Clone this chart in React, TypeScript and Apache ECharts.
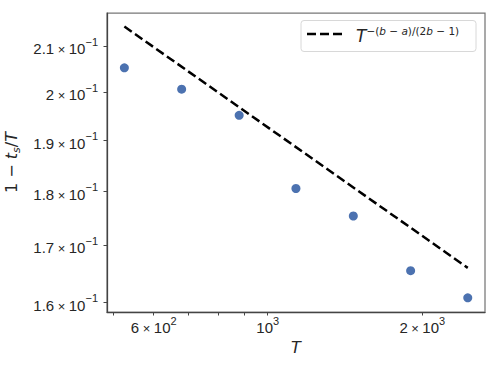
import React, { useEffect, useRef } from "react";
import * as echarts from "echarts";

// Data (log-log axes)
const T_VALUES = [526, 680, 880, 1135, 1468, 1898, 2452];
const Y_VALUES = [0.2053, 0.2007, 0.1952, 0.1806, 0.1754, 0.1655, 0.1608];
const FIT_T = [526, 2452];
const FIT_Y = [0.2145, 0.166];

const X_LABEL_TICKS = [600, 1000, 2000];
const X_MINOR_TICKS = [500, 700, 800, 900];
const Y_LABEL_TICKS = [0.16, 0.17, 0.18, 0.19, 0.2, 0.21];
const X_RANGE = [486.6, 2649];
const Y_RANGE = [0.1584, 0.2176];

const lg = (v: number) => Math.log10(v);

function sciRich(v: number): string {
  const raw = Math.pow(10, v);
  const exp = Math.floor(Math.log10(raw) + 1e-9);
  const mant = Math.round((raw / Math.pow(10, exp)) * 100) / 100;
  const e = exp < 0 ? "\u2212" + Math.abs(exp) : String(exp);
  if (mant === 1) return `{n|10}{e|${e}}`;
  return `{n|${mant}}{x|\u00d7}{n|10}{e|${e}}`;
}

export default function App() {
  const ref = useRef<HTMLDivElement>(null);
  useEffect(() => {
    if (!ref.current) return;
    const chart = echarts.init(ref.current, null, { renderer: "svg" });
    const tickFont = "Liberation Sans";
    const mathFont = "DejaVu Sans";
    const richTick = {
      n: { fontFamily: tickFont, fontSize: 15, color: "#262626", lineHeight: 20, verticalAlign: "bottom" },
      x: { fontFamily: tickFont, fontSize: 13, color: "#262626", lineHeight: 20, verticalAlign: "bottom", padding: [0, 3.5, 0, 3.5] },
      e: { fontFamily: tickFont, fontSize: 11, color: "#262626", lineHeight: 9, verticalAlign: "top" },
    };
    const labelBase = { fontFamily: tickFont, fontSize: 15, color: "#262626" };
    chart.setOption({
      animation: false,
      textStyle: { fontFamily: tickFont },
      grid: {
        left: 107,
        top: 13,
        width: 378,
        height: 299,
        containLabel: false,
        outerBoundsMode: "none",
        show: true,
        borderColor: "#777",
        borderWidth: 1.25,
        backgroundColor: "#fff",
      },
      xAxis: {
        type: "value",
        min: lg(X_RANGE[0]),
        max: lg(X_RANGE[1]),
        name: "T",
        nameLocation: "middle",
        nameGap: 26,
        nameTextStyle: { fontFamily: mathFont, fontStyle: "italic", fontSize: 16, color: "#262626" },
        axisLine: { show: true, onZero: false, lineStyle: { color: "#444", width: 1.25 } },
        axisTick: {
          show: true,
          length: 3.5,
          lineStyle: { color: "#444", width: 1 },
          customValues: [...X_MINOR_TICKS, ...X_LABEL_TICKS].map(lg),
        },
        axisLabel: {
          ...labelBase,
          customValues: X_LABEL_TICKS.map(lg),
          margin: 3,
          formatter: (v: number) => sciRich(v),
          rich: richTick,
        },
        splitLine: { show: false },
      },
      yAxis: {
        type: "value",
        min: lg(Y_RANGE[0]),
        max: lg(Y_RANGE[1]),
        name: "{a|1 \u2212 }{i|t}{s|s}{a|/}{i|T}",
        nameLocation: "middle",
        nameRotate: 90,
        nameGap: 76,
        nameTextStyle: {
          fontFamily: mathFont,
          fontSize: 16,
          rich: {
            a: { fontFamily: mathFont, fontSize: 16, color: "#262626", lineHeight: 22 },
            i: { fontFamily: mathFont, fontSize: 16, fontStyle: "italic", color: "#262626", lineHeight: 22 },
            s: { fontFamily: mathFont, fontSize: 11, fontStyle: "italic", color: "#262626", lineHeight: 22, verticalAlign: "bottom" },
          },
        },
        axisLine: { show: true, onZero: false, lineStyle: { color: "#444", width: 1.25 } },
        axisTick: {
          show: true,
          length: 3.5,
          lineStyle: { color: "#444", width: 1 },
          customValues: Y_LABEL_TICKS.map(lg),
        },
        axisLabel: {
          ...labelBase,
          customValues: Y_LABEL_TICKS.map(lg),
          margin: 9,
          formatter: (v: number) => sciRich(v),
          rich: richTick,
        },
        splitLine: { show: false },
      },
      graphic: [
        {
          type: "group",
          z: 100,
          children: [
            {
              type: "rect",
              shape: { x: 301, y: 20.5, width: 175, height: 31, r: 3 },
              style: { fill: "rgba(255,255,255,0.85)", stroke: "#d8d8d8", lineWidth: 1 },
            },
            {
              type: "line",
              shape: { x1: 307, y1: 34, x2: 343, y2: 34 },
              style: { stroke: "#000", lineWidth: 2.5, lineDash: [9, 4] },
            },
            {
              type: "text",
              x: 356,
              y: 35,
              style: {
                text: "{T|T}{s|\u2212(}{si|b}{s| \u2212 }{si|a}{s|)/(2}{si|b}{s| \u2212 1)}",
                verticalAlign: "middle",
                align: "left",
                fontFamily: mathFont,
                fontSize: 16,
                rich: {
                  T: { fontFamily: mathFont, fontStyle: "italic", fontSize: 17, fill: "#262626", lineHeight: 19, verticalAlign: "bottom" },
                  s: { fontFamily: mathFont, fontSize: 10.5, fill: "#262626", lineHeight: 10, verticalAlign: "top" },
                  si: { fontFamily: mathFont, fontSize: 10.5, fontStyle: "italic", fill: "#262626", lineHeight: 10, verticalAlign: "top" },
                },
              },
            },
          ],
        },
      ],
      series: [
        {
          type: "scatter",
          data: T_VALUES.map((t, i) => [lg(t), lg(Y_VALUES[i])]),
          symbolSize: 9,
          itemStyle: { color: "#4C72B0", opacity: 1 },
          z: 2,
        },
        {
          type: "line",
          data: FIT_T.map((t, i) => [lg(t), lg(FIT_Y[i])]),
          showSymbol: false,
          symbol: "none",
          lineStyle: { color: "#000", width: 2.5, type: [9, 4] },
          z: 3,
        },
      ],
    });
    return () => chart.dispose();
  }, []);
  return (
    <div
      ref={ref}
      style={{ position: "fixed", left: 0, top: 0, width: 498, height: 374, background: "#fff" }}
    />
  );
}
